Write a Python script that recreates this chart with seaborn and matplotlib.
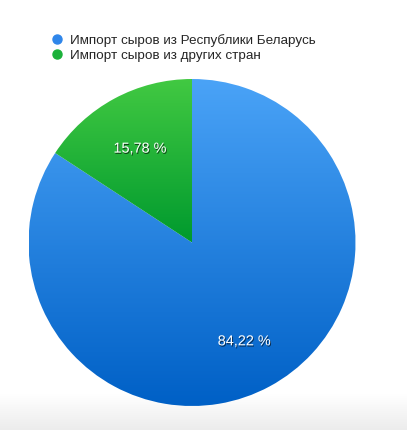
import numpy as np
import matplotlib
matplotlib.use('Agg')
import matplotlib.pyplot as plt
import matplotlib.patheffects as pe
from matplotlib.colors import LinearSegmentedColormap
from matplotlib.lines import Line2D
import seaborn as sns

# data
labels = ['Импорт сыров из Республики Беларусь', 'Импорт сыров из других стран']
shares = [84.22, 15.78]
pct_text = ['84,22 %', '15,78 %']
# (top, bottom) gradient colours for each slice
grad_colors = [('#4aa3f7', '#0060c6'), ('#42c942', '#009a2e')]
legend_colors = ['#2f86ea', '#1bb13a']

sns.set_theme(style='white')
plt.rcParams['font.family'] = ['Liberation Sans', 'DejaVu Sans']

W, H = 407, 430
fig = plt.figure(figsize=(W / 100, H / 100), dpi=100)
fig.patch.set_facecolor('white')

# soft grey band at the bottom
bg = fig.add_axes([0, 0, 1, 36 / H])
bg.set_axis_off()
band = np.linspace(0, 1, 64).reshape(-1, 1)
bg.imshow(band, aspect='auto', origin='lower',
          cmap=LinearSegmentedColormap.from_list('band', ['#ececec', '#ffffff']),
          extent=[0, 1, 0, 1])

# pie axes placed in pixels
cx, cy, r = 192, 242.5, 163.5
ax = fig.add_axes([(cx - r) / W, (H - cy - r) / H, 2 * r / W, 2 * r / H])
wedges, texts = ax.pie(shares, startangle=90, counterclock=False, radius=1,
                       labels=None, wedgeprops=dict(linewidth=0))
ax.set_xlim(-1, 1)
ax.set_ylim(-1, 1)
ax.set_aspect('equal')
ax.set_axis_off()

# fill each wedge with a vertical gradient
for i, (w, (top, bottom)) in enumerate(zip(wedges, grad_colors)):
    w.set_facecolor('none')
    cmap = LinearSegmentedColormap.from_list('g', [bottom, top])
    extent = [-1, 1, -1, 1] if i == 0 else [-1, 1, 0, 1]
    im = ax.imshow(np.linspace(0, 1, 128).reshape(-1, 1), aspect='auto',
                   origin='lower', cmap=cmap, extent=extent, zorder=1)
    im.set_clip_path(w)
ax.set_xlim(-1, 1)
ax.set_ylim(-1, 1)

# percentage labels
theta = 90
for share, txt in zip(shares, pct_text):
    mid = np.deg2rad(theta - share / 100 * 360 / 2)
    theta -= share / 100 * 360
    ax.text(0.67 * np.cos(mid), 0.67 * np.sin(mid) - 0.015, txt, ha='center', va='center',
            color='white', fontsize=10.4, zorder=5,
            path_effects=[pe.withSimplePatchShadow(offset=(0.6, -0.9),
                                                   shadow_rgbFace='black', alpha=0.6)])

# legend
handles = [Line2D([], [], marker='o', linestyle='none', markersize=6.5,
                  markerfacecolor=c, markeredgecolor=c) for c in legend_colors]
fig.legend(handles, labels, loc='upper left', bbox_to_anchor=(49 / W, 1 - 34 / H),
           frameon=False, fontsize=9.7, handletextpad=0.35, labelspacing=0.2,
           borderaxespad=0, borderpad=0, handlelength=1.2)

fig.savefig('out.png', dpi=100)
